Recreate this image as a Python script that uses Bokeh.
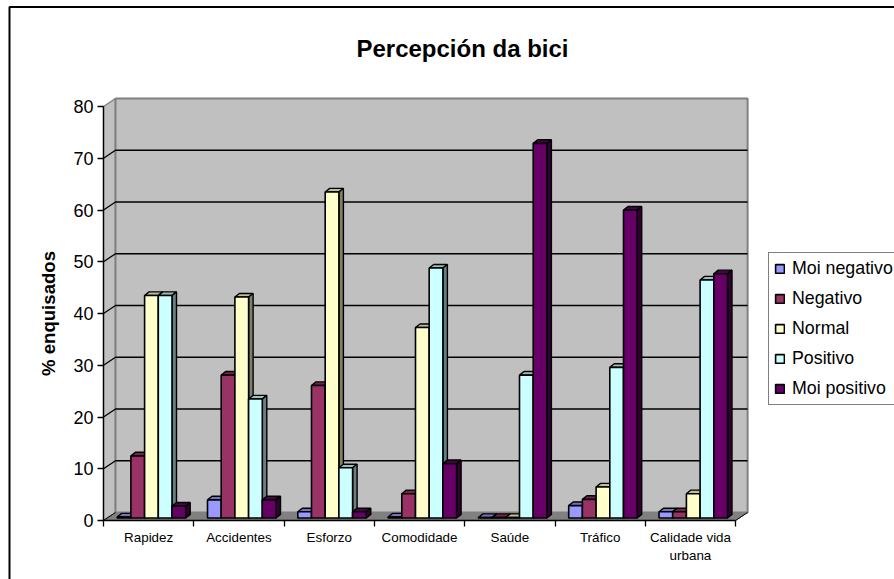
from bokeh.embed import file_html
from bokeh.models import BoxAnnotation, FixedTicker, Label, Legend, LegendItem, LinearAxis, Range1d
from bokeh.plotting import figure
from bokeh.resources import INLINE

# Survey results, percent of respondents per topic and answer
categories = ["Rapidez", "Accidentes", "Esforzo", "Comodidade", "Saúde", "Tráfico", "Calidade vida\nurbana"]
moi_negativo = [0.2, 3.5, 1.2, 0.2, 0.1, 2.4, 1.2]
negativo = [12.0, 27.6, 25.6, 4.7, 0.1, 3.6, 1.2]
normal = [43.0, 42.7, 63.0, 36.8, 0.1, 6.0, 4.7]
positivo = [43.0, 23.0, 9.7, 48.3, 27.6, 29.1, 46.0]
moi_positivo = [2.3, 3.5, 1.2, 10.5, 72.4, 59.5, 47.2]

series = [
    ("Moi negativo", moi_negativo, "#9999FF", "#7373BF", "#4D4D80"),
    ("Negativo", negativo, "#993366", "#73264D", "#4D1A33"),
    ("Normal", normal, "#FFFFCC", "#BFBF99", "#808066"),
    ("Positivo", positivo, "#CCFFFF", "#99BFBF", "#668080"),
    ("Moi positivo", moi_positivo, "#660066", "#4D004D", "#330033"),
]

# The frame fills the page; axes sit at fixed data positions inside it.
W, H = 894, 579
ORIGIN_X, ORIGIN_Y = 103, 520      # pixel position of category 0, value 0
CAT_W = 90.3                       # pixels per category
UNIT = 5.175                       # pixels per percentage point
DEPTH_X = 12 / CAT_W               # oblique depth of the chart box
DEPTH_Y = 8 / UNIT
BAR_W = 13.7 / CAT_W
BAR_DX = 4.5 / CAT_W               # oblique depth of a bar
BAR_DY = 3.6 / UNIT
BAR_OFF_X = 2.8 / CAT_W
BAR_OFF_Y = 2.5 / UNIT
GAP = (1 - 5 * BAR_W) / 2
n = len(categories)
top = 80

p = figure(
    width=W, height=H, output_backend="svg", toolbar_location=None,
    x_range=Range1d(-ORIGIN_X / CAT_W, (W - ORIGIN_X) / CAT_W),
    y_range=Range1d(-(H - ORIGIN_Y) / UNIT, ORIGIN_Y / UNIT),
    min_border=0, x_axis_location=None, y_axis_location=None,
)
p.grid.visible = False
p.outline_line_color = None
p.background_fill_color = "white"
p.border_fill_color = "white"

dx, dy = DEPTH_X, DEPTH_Y
# Side wall, floor and back wall of the chart box
p.patch([0, dx, dx, 0], [0, dy, top + dy, top], fill_color="#C0C0C0", line_color="#808080", line_width=1.5)
p.patch([0, dx, n + dx, n], [0, dy, dy, 0], fill_color="#808080", line_color="#808080", line_width=1)
p.quad(left=dx, right=n + dx, bottom=dy, top=top + dy, fill_color="#C0C0C0", line_color="#808080", line_width=2)

# Gridlines run along the back wall and down the side wall to the ticks
for v in range(10, top, 10):
    p.line([0, dx, n + dx], [v, v + dy, v + dy], line_color="black", line_width=1.3)
p.line([0, dx], [0, dy], line_color="black", line_width=1)
p.line([n, n + dx], [0, dy], line_color="black", line_width=1)

# Bars, drawn left to right so each one hides the side face of its neighbour
legend_items = []
for c in range(n):
    for s, (name, vals, front, topc, side) in enumerate(series):
        x0 = c + GAP + BAR_OFF_X + s * BAR_W
        x1 = x0 + BAR_W
        b = BAR_OFF_Y
        t = vals[c] + BAR_OFF_Y
        p.patch([x0, x0 + BAR_DX, x1 + BAR_DX, x1], [t, t + BAR_DY, t + BAR_DY, t],
                fill_color=topc, line_color="black", line_width=1.4)
        p.patch([x1, x1 + BAR_DX, x1 + BAR_DX, x1], [b, b + BAR_DY, t + BAR_DY, t],
                fill_color=side, line_color="black", line_width=1.4)
        r = p.quad(left=x0, right=x1, bottom=b, top=t, fill_color=front, line_color="black", line_width=1.6)
        if c == 0:
            legend_items.append(LegendItem(label=name, renderers=[r]))

# Value axis with its ticks reaching out from the side wall
yaxis = LinearAxis(
    fixed_location=0,
    ticker=FixedTicker(ticks=list(range(0, top + 1, 10))), bounds=(0, top),
    axis_label="% enquisados", axis_label_text_font="Liberation Sans",
    axis_label_text_font_size="18.6px", axis_label_text_font_style="bold",
    axis_label_text_color="black", axis_label_standoff=11,
    major_label_text_font="Liberation Sans", major_label_text_font_size="18px",
    major_label_text_color="black", major_tick_in=0, major_tick_out=6,
    major_tick_line_color="black", major_tick_line_width=1.3, axis_line_color="black",
    axis_line_width=1.3, major_label_standoff=4,
)
p.add_layout(yaxis, "left")

# Category axis: separators are minor ticks, names sit on unmarked major ticks
xaxis = LinearAxis(
    fixed_location=0,
    ticker=FixedTicker(ticks=[i + 0.5 for i in range(n)], minor_ticks=list(range(n + 1))),
    major_label_overrides={i + 0.5: c for i, c in enumerate(categories)},
    bounds=(0, n), major_label_text_font="Liberation Sans", major_label_text_font_size="13.4px",
    major_label_text_color="black", major_tick_in=0, major_tick_out=0,
    minor_tick_in=0, minor_tick_out=6, minor_tick_line_color="black",
    minor_tick_line_width=1.3, axis_line_color="black", axis_line_width=1.3,
    major_label_standoff=3,
)
p.add_layout(xaxis, "below")

legend = Legend(
    items=legend_items, location=(768, H - 405),
    orientation="vertical", background_fill_color="white", background_fill_alpha=1,
    border_line_color="black", border_line_width=1,
    label_text_font="Liberation Sans", label_text_font_size="17.8px", label_text_color="black",
    glyph_width=11, glyph_height=11, spacing=9, margin=0, padding=5,
    label_standoff=7, label_height=18,
)
p.add_layout(legend, "center")

p.add_layout(Label(
    x=462, y=H - 48, x_units="screen", y_units="screen", text="Percepción da bici",
    text_font="Liberation Sans", text_font_size="24px", text_font_style="bold",
    text_color="black", text_align="center", text_baseline="alphabetic",
))

# Chart area border; its right and bottom edges fall outside the page
p.add_layout(BoxAnnotation(
    left=9, right=W + 20, top=H - 6.5, bottom=-20,
    left_units="screen", right_units="screen", top_units="screen", bottom_units="screen",
    fill_alpha=0, line_color="black", line_width=2, line_alpha=1,
))

open("out.html", "w").write(file_html(p, INLINE))
